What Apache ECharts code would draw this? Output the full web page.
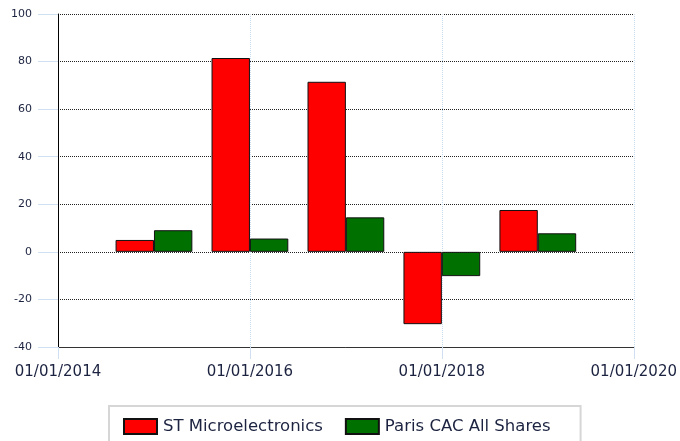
<!DOCTYPE html>
<html>
<head>
<meta charset="utf-8">
<script src="https://cdn.jsdelivr.net/npm/echarts@6/dist/echarts.min.js"></script>
<style>html,body{margin:0;padding:0;background:#fff}#c{width:680px;height:441px}</style>
</head>
<body>
<div id="c"></div>
<script>
// Years of the 01/01 dates each bar group sits on
var years = [2015, 2016, 2017, 2018, 2019];
var stMicro = [5.0, 81.5, 71.5, -30.4, 17.6];
var cacAll = [9.1, 5.6, 14.5, -10.2, 7.8];
var seriesNames = ['ST Microelectronics', 'Paris CAC All Shares'];
var xTickYears = [2014, 2016, 2018, 2020];
var yTicks = [-40, -20, 0, 20, 40, 60, 80, 100];

var chart = echarts.init(document.getElementById('c'), null, {renderer: 'canvas'});
var font = '"DejaVu Sans", Verdana, sans-serif';
var textColor = '#1c2340';

function pairs(vals) { return years.map(function (y, i) { return [y, vals[i]]; }); }

chart.setOption({
  animation: false,
  backgroundColor: '#fff',
  grid: {left: 58, right: 42, top: 14, bottom: 94, containLabel: false},
  xAxis: {
    type: 'value',
    min: xTickYears[0],
    max: xTickYears[xTickYears.length - 1],
    interval: 2,
    axisLine: {show: true, onZero: false, lineStyle: {color: '#333', width: 1}},
    axisTick: {show: true, length: 12, lineStyle: {color: '#cfe0f3', width: 1}},
    axisLabel: {
      margin: 18, fontFamily: font, fontSize: 15, color: textColor,
      formatter: function (v) { return '01/01/' + v; }
    },
    splitLine: {show: true, lineStyle: {color: '#c9dcf2', type: [1, 1], width: 1}}
  },
  yAxis: {
    type: 'value',
    min: yTicks[0],
    max: yTicks[yTicks.length - 1],
    interval: 20,
    axisLine: {show: true, lineStyle: {color: '#000', width: 1}},
    axisTick: {show: true, length: 20, lineStyle: {color: '#cfe0f3', width: 1}},
    axisLabel: {margin: 26, fontFamily: font, fontSize: 11, color: textColor},
    splitLine: {show: true, lineStyle: {color: '#222', type: [1, 1], width: 1}}
  },
  legend: {
    show: true,
    left: 109,
    top: 406,
    padding: [12, 30, 12, 14],
    itemWidth: 33,
    itemHeight: 15,
    itemGap: 22,
    icon: 'rect',
    borderColor: '#d6d6d6',
    borderWidth: 2,
    textStyle: {fontFamily: font, fontSize: 16.5, color: textColor, padding: [0, 0, 0, 1]},
    data: seriesNames
  },
  series: [
    {
      name: seriesNames[0], type: 'bar', data: pairs(stMicro),
      barWidth: '40%', barGap: '0%',
      itemStyle: {color: '#ff0000', borderColor: '#111', borderWidth: 1}
    },
    {
      name: seriesNames[1], type: 'bar', data: pairs(cacAll),
      barWidth: '40%', barGap: '0%',
      itemStyle: {color: '#007000', borderColor: '#111', borderWidth: 1}
    }
  ]
});
</script>
</body>
</html>
